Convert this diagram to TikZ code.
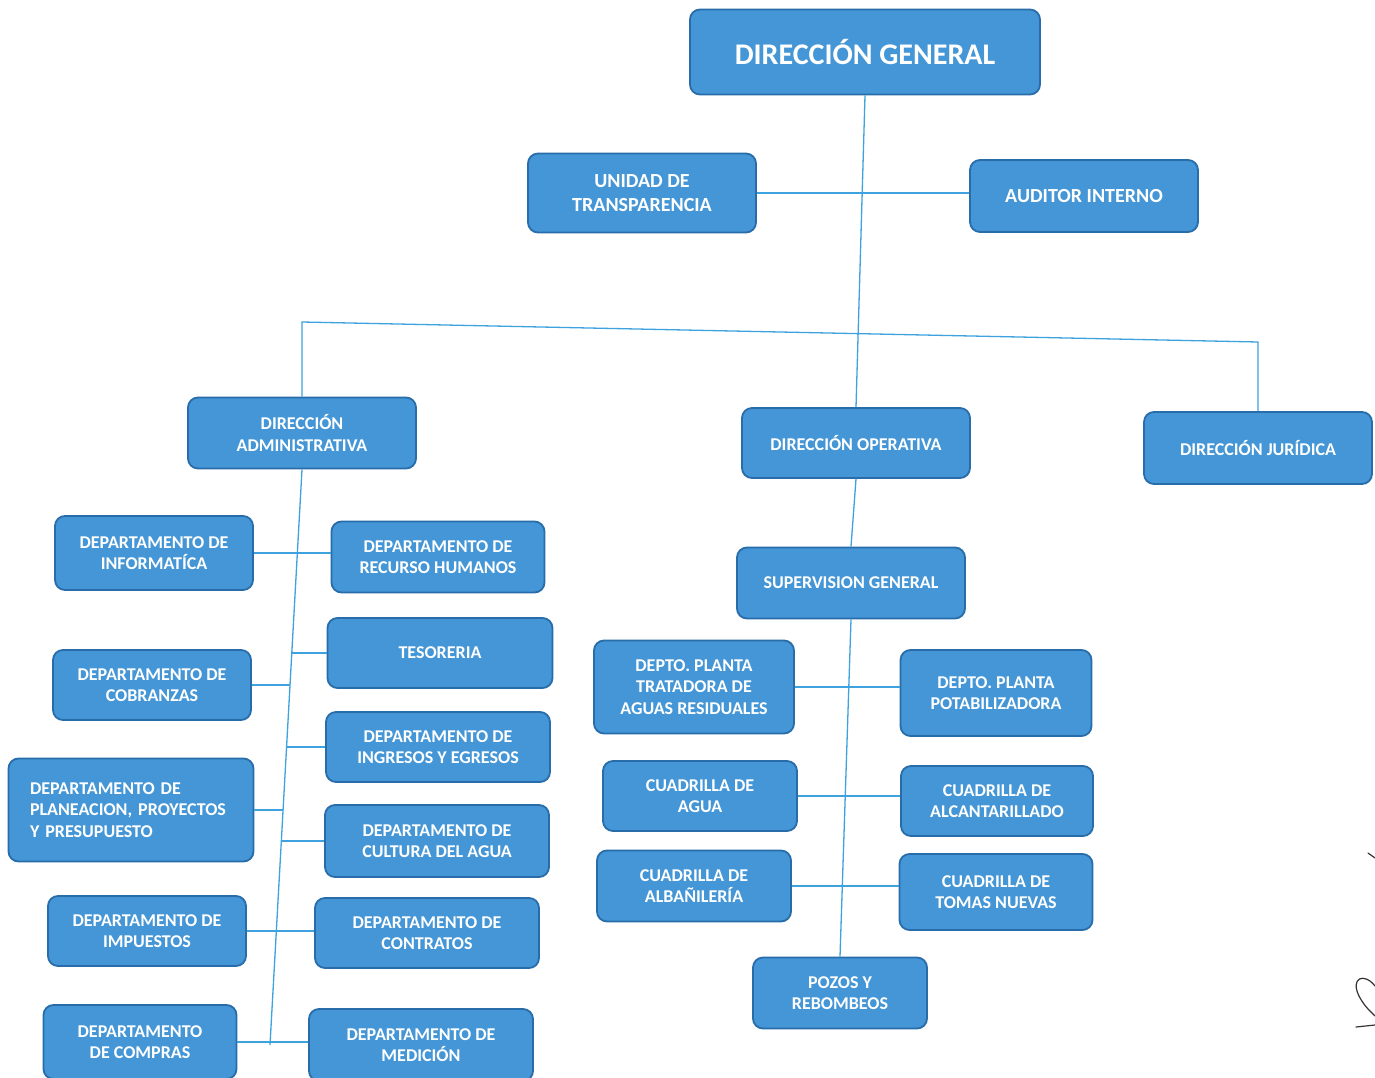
\documentclass[tikz,border=0pt]{standalone}
\usepackage{fontspec}
\setmainfont{Carlito}
\definecolor{boxfill}{RGB}{68,150,214}
\definecolor{boxedge}{RGB}{40,108,170}
\definecolor{linkc}{RGB}{62,162,222}
\begin{document}
\begin{tikzpicture}[x=1pt,y=-1pt,
  box/.style={rectangle, rounded corners=10pt, fill=boxfill, draw=boxedge, line width=1.8pt,
    text=white, font=\bfseries\fontsize{18}{21.5}\selectfont, align=center, inner sep=2pt},
  bigbox/.style={box, font=\bfseries\fontsize{30}{34}\selectfont},
  midfont/.style={font=\bfseries\fontsize{20}{24}\selectfont},
  link/.style={draw=linkc, line width=1.3pt},
  sig/.style={draw=black!80, line width=1.2pt, line cap=round}]
\useasboundingbox[fill=white] (0,0) rectangle (1375,1078);

% top level
\node[bigbox, minimum width=350pt, minimum height=85pt] (dg) at (865,52) {DIRECCIÓN GENERAL};
\node[box, midfont, minimum width=228pt, minimum height=79pt] (ut) at (642,193) {UNIDAD DE\\TRANSPARENCIA};
\node[box, midfont, minimum width=228pt, minimum height=72pt] (ai) at (1084,196) {AUDITOR INTERNO};

% second level
\node[box, minimum width=228pt, minimum height=71pt] (dadm) at (302,433) {DIRECCIÓN\\ADMINISTRATIVA};
\node[box, minimum width=228pt, minimum height=70pt] (dop) at (856,443) {DIRECCIÓN OPERATIVA};
\node[box, minimum width=228pt, minimum height=72pt] (djur) at (1258,448) {DIRECCIÓN JURÍDICA};

% administrative departments
\node[box, minimum width=198pt, minimum height=74pt] (inf) at (154,553) {DEPARTAMENTO DE\\INFORMATÍCA};
\node[box, minimum width=213pt, minimum height=71pt] (rh) at (438,557) {DEPARTAMENTO DE\\RECURSO HUMANOS};
\node[box, minimum width=225pt, minimum height=70pt] (tes) at (440,653) {TESORERIA};
\node[box, minimum width=198pt, minimum height=70pt] (cob) at (152,685) {DEPARTAMENTO DE\\COBRANZAS};
\node[box, minimum width=224pt, minimum height=70pt] (ing) at (438,747) {DEPARTAMENTO DE\\INGRESOS Y EGRESOS};
\node[box, align=left, text width=202pt, minimum width=245pt, minimum height=103pt] (pla) at (131,810) {DEPARTAMENTO DE\\PLANEACION, PROYECTOS\\Y PRESUPUESTO};
\node[box, minimum width=224pt, minimum height=72pt] (cul) at (437,841) {DEPARTAMENTO DE\\CULTURA DEL AGUA};
\node[box, minimum width=198pt, minimum height=70pt] (imp) at (147,931) {DEPARTAMENTO DE\\IMPUESTOS};
\node[box, minimum width=224pt, minimum height=70pt] (con) at (427,933) {DEPARTAMENTO DE\\CONTRATOS};
\node[box, minimum width=193pt, minimum height=74pt] (com) at (140,1042) {DEPARTAMENTO\\DE COMPRAS};
\node[box, minimum width=224pt, minimum height=72pt] (med) at (421,1045) {DEPARTAMENTO DE\\MEDICIÓN};

% operative branch
\node[box, minimum width=228pt, minimum height=71pt] (sup) at (851,583) {SUPERVISION GENERAL};
\node[box, minimum width=200pt, minimum height=93pt] (trat) at (694,687) {DEPTO. PLANTA\\TRATADORA DE\\AGUAS RESIDUALES};
\node[box, minimum width=191pt, minimum height=86pt] (pot) at (996,693) {DEPTO. PLANTA\\POTABILIZADORA};
\node[box, minimum width=194pt, minimum height=70pt] (cag) at (700,796) {CUADRILLA DE\\AGUA};
\node[box, minimum width=192pt, minimum height=70pt] (cal) at (997,801) {CUADRILLA DE\\ALCANTARILLADO};
\node[box, minimum width=194pt, minimum height=71pt] (calb) at (694,886) {CUADRILLA DE\\ALBAÑILERÍA};
\node[box, minimum width=193pt, minimum height=76pt] (ctn) at (996,892) {CUADRILLA DE\\TOMAS NUEVAS};
\node[box, minimum width=174pt, minimum height=71pt] (poz) at (840,993) {POZOS Y\\REBOMBEOS};

% helper coordinates
\coordinate (barL) at (302,322);
\coordinate (barR) at (1258,342);
\coordinate (tabot) at (270,1045);
\coordinate (tTes) at (291.7,653);
\coordinate (tCob) at (289.9,685);
\coordinate (tIng) at (286.5,747);
\coordinate (tPla) at (282.9,810);
\coordinate (tCul) at (281.2,841);

% connectors: top
\draw[link] (dg.south) -- (dop.north);
\draw[link] (ut.east) -- (ut.east -| ai.west);
\draw[link] (dadm.north) -- (barL) -- (barR) -- (djur.north);

% connectors: administrative
\draw[link] (dadm.south) -- (tabot);
\draw[link] (inf.east) -- (inf.east -| rh.west);
\draw[link] (tTes) -- (tes.west);
\draw[link] (cob.east) -- (tCob);
\draw[link] (tIng) -- (ing.west);
\draw[link] (pla.east) -- (tPla);
\draw[link] (tCul) -- (cul.west);
\draw[link] (imp.east) -- (imp.east -| con.west);
\draw[link] (com.east) -- (com.east -| med.west);

% connectors: operative
\draw[link] (dop.south) -- (sup.north);
\draw[link] (sup.south) -- (poz.north);
\draw[link] (trat.east) -- (trat.east -| pot.west);
\draw[link] (cag.east) -- (cag.east -| cal.west);
\draw[link] (calb.east) -- (calb.east -| ctn.west);

% handwritten marks at right edge
\draw[sig] (1368,853) -- (1375,858);
\draw[sig] (1375,986) .. controls (1364,972) and (1350,978) .. (1359,996) .. controls (1364,1006) and (1371,1012) .. (1375,1016);
\draw[sig] (1356,1027) -- (1375,1025);
\end{tikzpicture}
\end{document}
